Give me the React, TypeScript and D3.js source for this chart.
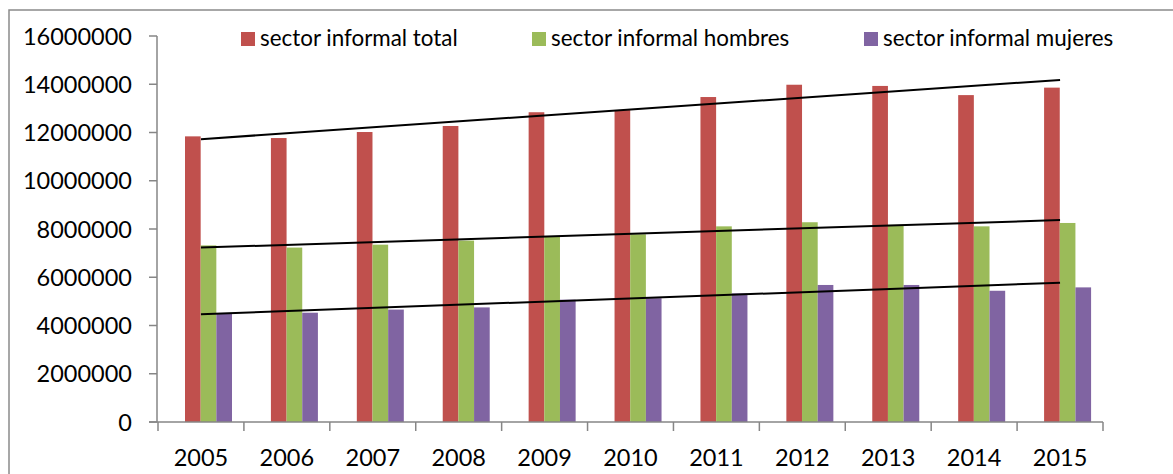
import React from "react";
import * as d3 from "d3";

const years = ["2005", "2006", "2007", "2008", "2009", "2010", "2011", "2012", "2013", "2014", "2015"];
const totalValues = [11840000, 11770000, 12020000, 12270000, 12840000, 12930000, 13470000, 13980000, 13930000, 13550000, 13860000];
const hombresValues = [7320000, 7230000, 7350000, 7520000, 7680000, 7780000, 8110000, 8280000, 8170000, 8110000, 8250000];
const mujeresValues = [4480000, 4530000, 4660000, 4750000, 5070000, 5130000, 5330000, 5680000, 5680000, 5440000, 5580000];
const seriesNames = ["sector informal total", "sector informal hombres", "sector informal mujeres"];
const seriesColors = ["#C0504D", "#9BBB59", "#8064A2"];
const yTicks = [0, 2000000, 4000000, 6000000, 8000000, 10000000, 12000000, 14000000, 16000000];

const W = 1173;
const H = 474;
const FONT = "Lato, 'Open Sans', sans-serif";

function regression(vals: number[]) {
  const n = vals.length;
  const xs = d3.range(n);
  const mx = d3.mean(xs) as number;
  const my = d3.mean(vals) as number;
  let sxy = 0, sxx = 0;
  xs.forEach((x, i) => { sxy += (x - mx) * (vals[i] - my); sxx += (x - mx) * (x - mx); });
  const b = sxy / sxx;
  const a = my - b * mx;
  return (x: number) => a + b * x;
}

export default function App() {
  const series = [totalValues, hombresValues, mujeresValues];
  const x = d3.scaleBand<string>().domain(years).range([158, 1103]).padding(0);
  const inner = d3.scaleBand<number>().domain([0, 1, 2]).range([27, 74]).padding(0);
  const y = d3.scaleLinear().domain([0, 16000000]).range([422, 36]);
  const axisColor = "#868686";
  const legendX = [241, 532, 864];

  return (
    <svg width={W} height={H} style={{ position: "absolute", left: 0, top: 0, background: "#fff" }} fontFamily={FONT}>
      <rect x={0} y={0} width={W} height={H} fill="#fff" />
      <rect x={9} y={10} width={W + 20} height={H + 20} fill="none" stroke="#8a8a8a" strokeWidth={1.5} />

      {/* bars */}
      {series.map((vals, si) =>
        vals.map((v, i) => (
          <rect
            key={`b${si}-${i}`}
            x={(x(years[i]) as number) + (inner(si) as number)}
            y={y(v)}
            width={inner.bandwidth()}
            height={y(0) - y(v)}
            fill={seriesColors[si]}
          />
        ))
      )}

      {/* trend lines */}
      {series.map((vals, si) => {
        const f = regression(vals);
        const n = vals.length;
        const line = d3.line<number>()
          .x((i) => (x(years[i]) as number) + x.bandwidth() / 2)
          .y((i) => y(f(i)));
        return <path key={`t${si}`} d={line([0, n - 1]) as string} stroke="#000" strokeWidth={2} fill="none" />;
      })}

      {/* y axis */}
      <line x1={157} x2={157} y1={y(16000000)} y2={y(0)} stroke={axisColor} strokeWidth={1.5} />
      {yTicks.map((t) => (
        <g key={`yt${t}`}>
          <line x1={149} x2={157} y1={y(t)} y2={y(t)} stroke={axisColor} strokeWidth={1.5} />
          <text x={132} y={y(t) + 8.5} textAnchor="end" fontSize={23.5} fill="#000">{t}</text>
        </g>
      ))}

      {/* x axis */}
      <line x1={149} x2={1103} y1={y(0)} y2={y(0)} stroke={axisColor} strokeWidth={1.5} />
      {years.concat(["end"]).map((yr, i) => {
        const px = i < years.length ? (x(yr) as number) : 1103;
        return <line key={`xt${i}`} x1={px} x2={px} y1={y(0)} y2={y(0) + 9} stroke={axisColor} strokeWidth={1.5} />;
      })}
      {years.map((yr) => (
        <text key={`xl${yr}`} x={(x(yr) as number) + x.bandwidth() / 2} y={465.5} textAnchor="middle" fontSize={23.5} fill="#000">{yr}</text>
      ))}

      {/* legend */}
      {seriesNames.map((name, i) => (
        <g key={`lg${i}`}>
          <rect x={legendX[i]} y={32} width={14} height={14} fill={seriesColors[i]} />
          <text x={legendX[i] + 19} y={45.5} fontSize={22.4} fill="#000">{name}</text>
        </g>
      ))}
    </svg>
  );
}
